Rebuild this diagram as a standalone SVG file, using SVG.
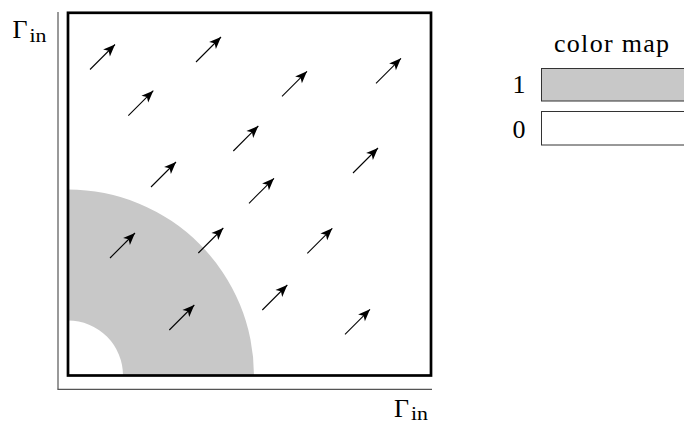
<svg xmlns="http://www.w3.org/2000/svg" width="684" height="423" viewBox="0 0 684 423">
<style>
.t{font-family:"Liberation Serif","Times New Roman",serif;fill:#000}
.big{font-size:26px}
.sub{font-size:18px}
.arr{stroke:#000;stroke-width:1.1;fill:none;marker-end:url(#ah)}
.axis{stroke:#555;stroke-width:1.2;fill:none}
.cm{stroke:#333;stroke-width:1}
</style>
<defs>
<marker id="ah" markerUnits="userSpaceOnUse" markerWidth="16" markerHeight="14" viewBox="-13 -7 14 14" refX="0" refY="0" orient="auto">
<path d="M0,0 L-12,-4.8 L-9,0 L-12,4.8 Z" fill="#000"/>
</marker>
</defs>
<rect width="684" height="423" fill="#fff"/>
<g id="axes">
<line class="axis" x1="58" y1="12" x2="58" y2="389.3"/>
<line class="axis" x1="57.4" y1="389.3" x2="432" y2="389.3"/>
<text class="t big" x="12.5" y="37.7">Γ</text>
<text class="t sub" x="29.5" y="41.7" textLength="17" lengthAdjust="spacingAndGlyphs">in</text>
<text class="t big" x="394" y="416.5">Γ</text>
<text class="t sub" x="411" y="419.5" textLength="17" lengthAdjust="spacingAndGlyphs">in</text>
</g>
<g id="region">
<path d="M68,189.5 A186,186 0 0 1 254,375.5 L123,375.5 A55,55 0 0 0 68,320.5 Z" fill="#c8c8c8"/>
</g>
<g id="frame">
<rect x="68" y="12.8" width="363" height="362.7" fill="none" stroke="#000" stroke-width="2.7"/>
</g>
<g id="connectors">
<line class="arr" x1="90" y1="69.5" x2="115" y2="44.5"/>
<line class="arr" x1="196" y1="62" x2="221" y2="37"/>
<line class="arr" x1="282" y1="96.3" x2="307" y2="71.3"/>
<line class="arr" x1="376" y1="83.3" x2="401" y2="58.3"/>
<line class="arr" x1="128.3" y1="115.7" x2="153.3" y2="90.7"/>
<line class="arr" x1="233.3" y1="151" x2="258.3" y2="126"/>
<line class="arr" x1="353" y1="173" x2="378" y2="148"/>
<line class="arr" x1="151" y1="187" x2="176" y2="162"/>
<line class="arr" x1="249" y1="203.3" x2="274" y2="178.3"/>
<line class="arr" x1="110" y1="258" x2="135" y2="233"/>
<line class="arr" x1="198.3" y1="253" x2="223.3" y2="228"/>
<line class="arr" x1="307.3" y1="253.3" x2="332.3" y2="228.3"/>
<line class="arr" x1="262.3" y1="310" x2="287.3" y2="285"/>
<line class="arr" x1="169.3" y1="330" x2="194.3" y2="305"/>
<line class="arr" x1="345" y1="334.3" x2="370" y2="309.3"/>
</g>
<g id="colormap">
<text class="t big" x="554" y="51.5" textLength="115" lengthAdjust="spacing">color map</text>
<rect class="cm" x="541.5" y="68.5" width="160" height="32.5" fill="#c8c8c8"/>
<rect class="cm" x="541.5" y="111.5" width="160" height="33.5" fill="#fff"/>
<text class="t big" x="512.5" y="93">1</text>
<text class="t big" x="512.5" y="137.5">0</text>
</g>
</svg>
